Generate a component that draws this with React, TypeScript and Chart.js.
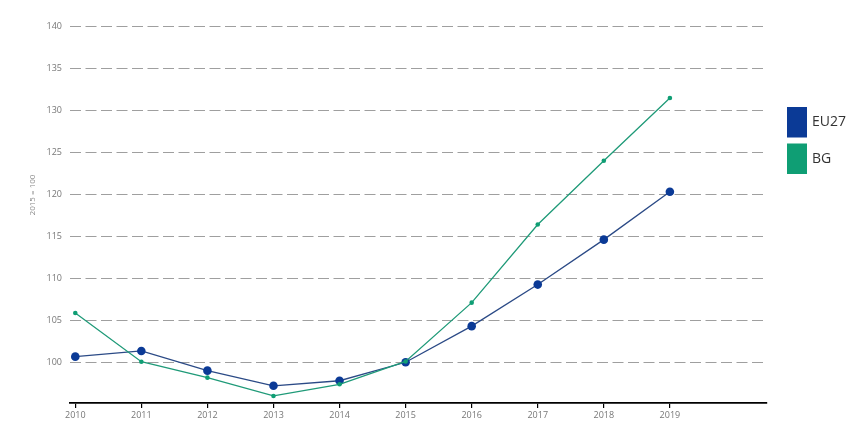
import React, { useEffect, useRef } from "react";
import { Chart, registerables } from "chart.js";

Chart.register(...registerables);

const years = [2010, 2011, 2012, 2013, 2014, 2015, 2016, 2017, 2018, 2019];
const eu27 = [100.67, 101.35, 99.0, 97.2, 97.8, 100.0, 104.3, 109.25, 114.6, 120.3];
const bg = [105.87, 100.07, 98.17, 95.99, 97.38, 100.1, 107.1, 116.4, 124.0, 131.46];
const yTicks = [100, 105, 110, 115, 120, 125, 130, 135, 140];
const seriesLabels = ["EU27", "BG"];
const seriesColors = ["#0b3a96", "#0f9e74"];
const lineColors = ["#2b4a86", "#1f9a78"];
const yTitle = "2015 = 100";

const legendPlugin = {
  id: "customLegend",
  afterDraw(chart: any) {
    const ctx = chart.ctx;
    ctx.save();
    chart.data.datasets.forEach((ds: any, i: number) => {
      const x = 787;
      const y = 107 + i * 36.5;
      ctx.fillStyle = ds.legendColor;
      ctx.fillRect(x, y, 20, 30.5);
      ctx.fillStyle = "#333";
      ctx.font = "14px 'Open Sans', sans-serif";
      ctx.textBaseline = "middle";
      ctx.textAlign = "left";
      ctx.fillText(ds.label, x + 25, y + 15.5);
    });
    ctx.restore();
  },
};

const yTitlePlugin = {
  id: "yTitle",
  afterDraw(chart: any) {
    const ctx = chart.ctx;
    ctx.save();
    ctx.translate(33, 195);
    ctx.rotate(-Math.PI / 2);
    ctx.fillStyle = "#888";
    ctx.font = "8px 'Open Sans', sans-serif";
    ctx.textAlign = "center";
    ctx.textBaseline = "middle";
    ctx.fillText(yTitle, 0, 0);
    ctx.restore();
  },
};

export default function App() {
  const ref = useRef<HTMLCanvasElement>(null);
  useEffect(() => {
    if (!ref.current) return;
    const chart = new Chart(ref.current, {
      type: "line",
      data: {
        datasets: [
          {
            label: seriesLabels[0],
            data: years.map((x, i) => ({ x, y: eu27[i] })),
            borderColor: lineColors[0],
            backgroundColor: seriesColors[0],
            pointBackgroundColor: seriesColors[0],
            pointBorderWidth: 0,
            pointRadius: 4.3,
            borderWidth: 1.3,
            order: 2,
            legendColor: seriesColors[0],
          } as any,
          {
            label: seriesLabels[1],
            data: years.map((x, i) => ({ x, y: bg[i] })),
            borderColor: lineColors[1],
            backgroundColor: seriesColors[1],
            pointBackgroundColor: seriesColors[1],
            pointBorderWidth: 0,
            pointRadius: 2.3,
            borderWidth: 1.3,
            order: 1,
            legendColor: seriesColors[1],
          } as any,
        ],
      },
      options: {
        animation: false,
        responsive: false,
        maintainAspectRatio: false,
        layout: { padding: { top: 18, left: 0, right: 96, bottom: 0 } },
        plugins: { legend: { display: false }, tooltip: { enabled: false } },
        elements: { line: { tension: 0 } },
        scales: {
          x: {
            type: "linear",
            min: 2009.92,
            max: 2020.47,
            afterBuildTicks: (s: any) => {
              s.ticks = years.map((v) => ({ value: v }));
            },
            afterFit: (s: any) => {
              s.height = 34;
            },
            ticks: {
              color: "#777",
              font: { size: 9, family: "'Open Sans', sans-serif" },
              padding: 2,
              maxRotation: 0,
              autoSkip: false,
              callback: (v: any) => String(v),
            },
            grid: {
              drawOnChartArea: false,
              drawTicks: true,
              tickLength: 5,
              color: "#000",
              lineWidth: 1.2,
            },
            border: { display: true, color: "#000", width: 1.8 },
          },
          y: {
            min: 95.15,
            max: 140.99,
            afterBuildTicks: (s: any) => {
              s.ticks = yTicks.map((v) => ({ value: v }));
            },
            afterFit: (s: any) => {
              s.width = 70;
            },
            ticks: {
              color: "#777",
              font: { size: 9, family: "'Open Sans', sans-serif" },
              padding: 8,
            },
            grid: {
              drawTicks: false,
              color: "#9f9f9f",
              lineWidth: 1,
            },
            border: { display: false, dash: [11, 4.5] },
          },
        },
      },
      plugins: [legendPlugin, yTitlePlugin],
    });
    return () => chart.destroy();
  }, []);
  return (
    <div style={{ position: "absolute", left: 0, top: 0, width: 863, height: 437, background: "#fff" }}>
      <canvas ref={ref} width={863} height={437} style={{ width: 863, height: 437 }} />
    </div>
  );
}
